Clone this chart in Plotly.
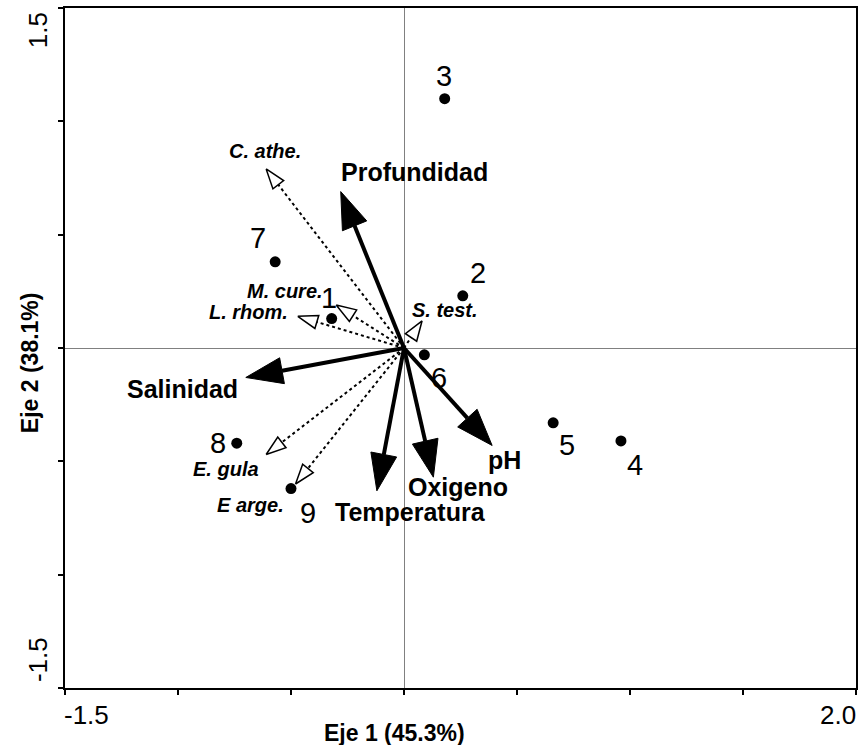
import numpy as np
import plotly.graph_objects as go

# ---------------- data ----------------
site_labels = ['1', '2', '3', '4', '5', '6', '7', '8', '9']
site_x = [-0.32, 0.26, 0.18, 0.96, 0.66, 0.09, -0.57, -0.74, -0.50]
site_y = [0.13, 0.23, 1.10, -0.41, -0.33, -0.03, 0.38, -0.42, -0.62]

env_names = ['Profundidad', 'Salinidad', 'Temperatura', 'Oxigeno', 'pH']
env_x = [-0.28, -0.70, -0.12, 0.13, 0.39]
env_y = [0.69, -0.13, -0.63, -0.57, -0.43]

species_names = ['C. athe.', 'M. cure.', 'L. rhom.', 'S. test.', 'E. gula', 'E arge.']
species_x = [-0.61, -0.30, -0.47, 0.08, -0.61, -0.48]
species_y = [0.79, 0.19, 0.14, 0.12, -0.47, -0.60]

x_range = [-1.5, 2.0]
y_range = [-1.5, 1.5]
tick_step = 0.5

# ---------------- styles / label offsets (pixels) ----------------
FONT = "Arial, 'Liberation Sans', sans-serif"
site_offsets = {'1': (-3, 21), '2': (15, 23), '3': (-1, 23), '4': (14, -24),
                '5': (14, -22), '6': (15, -23), '7': (-17, 24), '8': (-19, 0),
                '9': (17, -24)}
env_offsets = {'Profundidad': (74, 20), 'Salinidad': (-63, -12),
               'Temperatura': (34, -21), 'Oxigeno': (25, -10), 'pH': (12, -15)}
species_offsets = {'C. athe.': (-1, 18), 'M. cure.': (-51, 14), 'L. rhom.': (-49, 4),
                   'S. test.': (23, 11), 'E. gula': (-40, -14), 'E arge.': (-45, -21)}


def head(tx, ty, length, half):
    v = np.array([tx, ty], dtype=float)
    u = v / np.linalg.norm(v)
    n = np.array([-u[1], u[0]])
    base = v - length * u
    p1 = base + half * n
    p2 = base - half * n
    return base, [tx, p1[0], p2[0], tx], [ty, p1[1], p2[1], ty]


fig = go.Figure()

# species arrows (dotted, open heads)
for name, sx, sy in zip(species_names, species_x, species_y):
    base, hx, hy = head(sx, sy, 0.088, 0.03)
    fig.add_trace(go.Scatter(x=[0, base[0]], y=[0, base[1]], mode='lines',
                             line=dict(color='black', width=2, dash='dot'),
                             hoverinfo='skip', showlegend=False))
    fig.add_trace(go.Scatter(x=hx, y=hy, mode='lines', fill='toself',
                             fillcolor='white',
                             line=dict(color='black', width=1.5),
                             hoverinfo='skip', showlegend=False))

# environmental arrows (solid, filled heads)
for name, ex, ey in zip(env_names, env_x, env_y):
    base, hx, hy = head(ex, ey, 0.163, 0.058)
    fig.add_trace(go.Scatter(x=[0, base[0]], y=[0, base[1]], mode='lines',
                             line=dict(color='black', width=4),
                             hoverinfo='skip', showlegend=False))
    fig.add_trace(go.Scatter(x=hx, y=hy, mode='lines', fill='toself',
                             fillcolor='black',
                             line=dict(color='black', width=1),
                             hoverinfo='skip', showlegend=False))

# sites
fig.add_trace(go.Scatter(x=site_x, y=site_y, mode='markers',
                         marker=dict(color='black', size=11),
                         hoverinfo='skip', showlegend=False))

ann = []
for lab, sx, sy in zip(site_labels, site_x, site_y):
    dx, dy = site_offsets[lab]
    ann.append(dict(x=sx, y=sy, xref='x', yref='y', text=lab, showarrow=False,
                    xanchor='center', yanchor='middle',
                    xshift=dx, yshift=dy, font=dict(family=FONT, size=29, color='black')))
for lab, ex, ey in zip(env_names, env_x, env_y):
    dx, dy = env_offsets[lab]
    ann.append(dict(x=ex, y=ey, xref='x', yref='y', text='<b>' + lab + '</b>', showarrow=False,
                    xanchor='center', yanchor='middle',
                    xshift=dx, yshift=dy, font=dict(family=FONT, size=25, color='black')))
for lab, sx, sy in zip(species_names, species_x, species_y):
    dx, dy = species_offsets[lab]
    ann.append(dict(x=sx, y=sy, xref='x', yref='y', text='<b><i>' + lab + '</i></b>',
                    showarrow=False, xshift=dx, yshift=dy,
                    xanchor='center', yanchor='middle',
                    font=dict(family=FONT, size=20, color='black')))

# tick labels (only at ends) and axis titles
tick_font = dict(family=FONT, size=26, color='black')
C = dict(xanchor='center', yanchor='middle', showarrow=False, xref='paper', yref='paper')
ann += [
    dict(x=-0.034, y=0.9676, text='1.5', textangle=-90, font=tick_font, **C),
    dict(x=-0.034, y=0.0412, text='-1.5', textangle=-90, font=tick_font, **C),
    dict(x=0.0277, y=-0.0397, text='-1.5', font=tick_font, **C),
    dict(x=0.977, y=-0.0397, text='2.0', font=tick_font, **C),
    dict(x=0.416, y=-0.066, text='<b>Eje 1 (45.3%)</b>',
         font=dict(family=FONT, size=23, color='black'), **C),
    dict(x=-0.044, y=0.478, text='<b>Eje 2 (38.1%)</b>', textangle=-90,
         font=dict(family=FONT, size=23, color='black'), **C),
]

xt = list(np.arange(x_range[0], x_range[1] + 1e-9, tick_step))
yt = list(np.arange(y_range[0], y_range[1] + 1e-9, tick_step))

axis_common = dict(showgrid=False, zeroline=True, zerolinecolor='#808080', zerolinewidth=1,
                   showline=True, linecolor='black', linewidth=2, mirror=True,
                   ticks='outside', ticklen=5, tickwidth=1.5, tickcolor='black',
                   showticklabels=False, fixedrange=True)

fig.update_layout(
    width=861, height=745, autosize=False,
    margin=dict(l=65, r=3, t=8, b=57),
    paper_bgcolor='white', plot_bgcolor='white',
    xaxis=dict(range=x_range, tickvals=xt, **axis_common),
    yaxis=dict(range=y_range, tickvals=yt, **axis_common),
    annotations=ann,
)

fig.write_html("out.html")
